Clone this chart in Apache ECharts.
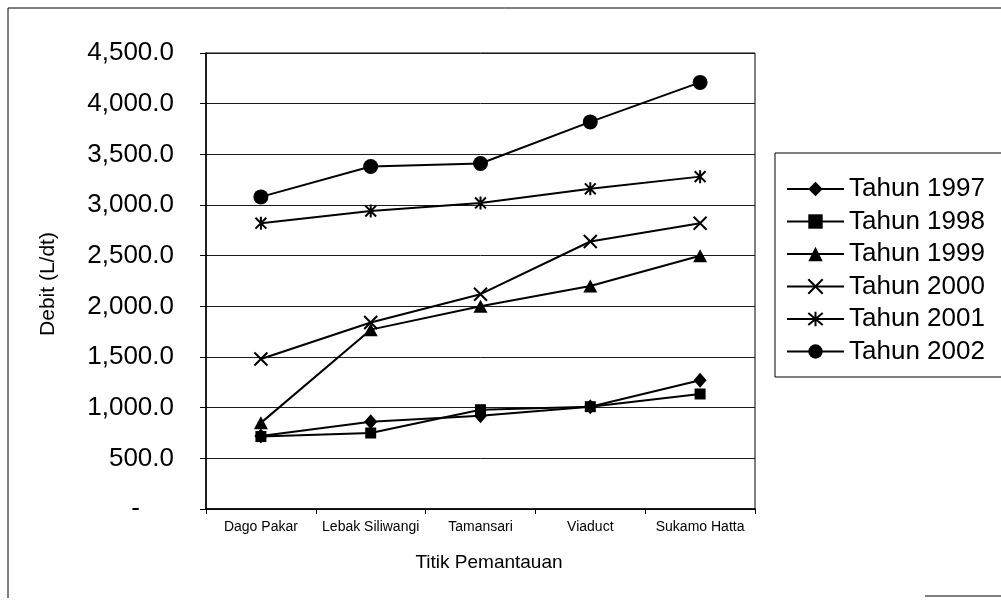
<!DOCTYPE html>
<html>
<head>
<meta charset="utf-8">
<script src="https://cdn.jsdelivr.net/npm/echarts@6/dist/echarts.min.js"></script>
<style>
  html, body { margin: 0; padding: 0; background: #fff; }
  #chart { width: 1001px; height: 602px; }
</style>
</head>
<body>
<div id="chart"></div>
<script>
// Monitoring points along the river
const categories = ['Dago Pakar', 'Lebak Siliwangi', 'Tamansari', 'Viaduct', 'Sukamo Hatta'];

// Discharge (L/dt) per year
const tahun1997 = [720, 860, 920, 1010, 1270];
const tahun1998 = [715, 750, 980, 1010, 1135];
const tahun1999 = [850, 1770, 2000, 2200, 2500];
const tahun2000 = [1480, 1840, 2120, 2640, 2820];
const tahun2001 = [2820, 2940, 3020, 3160, 3280];
const tahun2002 = [3080, 3380, 3410, 3820, 4210];

const seriesNames = ['Tahun 1997', 'Tahun 1998', 'Tahun 1999', 'Tahun 2000', 'Tahun 2001', 'Tahun 2002'];
const seriesData = [tahun1997, tahun1998, tahun1999, tahun2000, tahun2001, tahun2002];

const yTicks = { min: 0, max: 4500, interval: 500 };

const FONT = '"Liberation Sans", Arial, sans-serif';

// Marker shapes: diamond, square, triangle, cross, asterisk, circle
const markers = [
  { symbol: 'diamond', size: [13, 15], stroke: false },
  { symbol: 'rect', size: 11, stroke: false },
  { symbol: 'triangle', size: [14, 13], stroke: false },
  { symbol: 'path://M0,0 L10,10 M10,0 L0,10', size: 13, stroke: true },
  { symbol: 'path://M0,0 L10,10 M10,0 L0,10 M5,-1 L5,11', size: 13, stroke: true },
  { symbol: 'circle', size: 15, stroke: false }
];

const series = seriesNames.map((name, i) => ({
  name: name,
  type: 'line',
  data: seriesData[i],
  symbol: markers[i].symbol,
  symbolSize: markers[i].size,
  symbolKeepAspect: true,
  showAllSymbol: true,
  lineStyle: { color: '#000', width: 2 },
  itemStyle: markers[i].stroke
    ? { color: '#000', borderColor: '#000', borderWidth: 2 }
    : { color: '#000', borderColor: '#000', borderWidth: 0 },
  emphasis: { disabled: true },
  animation: false,
  z: 3
}));

const fmt = v => v.toLocaleString('en-US', { minimumFractionDigits: 1, maximumFractionDigits: 1 });

const chart = echarts.init(document.getElementById('chart'), null, { renderer: 'canvas' });
chart.setOption({
  animation: false,
  backgroundColor: '#fff',
  grid: {
    left: 206, right: 246, top: 53, bottom: 93,
    show: true, borderColor: '#000', borderWidth: 1
  },
  xAxis: {
    type: 'category',
    data: categories,
    boundaryGap: true,
    axisLine: { lineStyle: { color: '#000', width: 1.5 } },
    axisTick: { show: true, inside: false, length: 5, interval: 0, lineStyle: { color: '#000' } },
    axisLabel: { color: '#000', fontFamily: FONT, fontSize: 14, margin: 11, interval: 0 },
    splitLine: { show: false }
  },
  yAxis: {
    type: 'value',
    min: yTicks.min, max: yTicks.max, interval: yTicks.interval,
    axisLine: { show: true, lineStyle: { color: '#000', width: 1.5 } },
    axisTick: { show: true, inside: false, length: 6, lineStyle: { color: '#000' } },
    axisLabel: {
      color: '#000', fontFamily: FONT, fontSize: 26, margin: 32,
      formatter: v => v === 0 ? '{d|-}' : fmt(v),
      rich: { d: { fontFamily: FONT, fontSize: 26, color: '#000', padding: [0, 34, 0, 0] } }
    },
    splitLine: { show: true, lineStyle: { color: '#1a1a1a', width: 1 } }
  },
  legend: {
    orient: 'vertical',
    left: 781, top: 171,
    itemWidth: 57, itemHeight: 18, itemGap: 6.5,
    textStyle: { color: '#000', fontFamily: FONT, fontSize: 26, lineHeight: 26 },
    data: seriesNames,
    selectedMode: false
  },
  graphic: [
    // outer frame edges
    { type: 'line', shape: { x1: 8, y1: 8, x2: 1001, y2: 8 }, style: { stroke: '#000', lineWidth: 1 } },
    { type: 'line', shape: { x1: 8, y1: 8, x2: 8, y2: 598 }, style: { stroke: '#000', lineWidth: 1 } },
    { type: 'line', shape: { x1: 925, y1: 596, x2: 1001, y2: 596 }, style: { stroke: '#000', lineWidth: 1 } },
    // legend box
    { type: 'rect', shape: { x: 775, y: 153, width: 300, height: 224 }, style: { fill: 'none', stroke: '#000', lineWidth: 1 }, z: 1 },
    // axis titles
    {
      type: 'text', x: 489, y: 563,
      style: { text: 'Titik Pemantauan', font: '19px ' + FONT, fill: '#000', textAlign: 'center', textVerticalAlign: 'middle' }
    },
    {
      type: 'text', x: 48, y: 284, rotation: Math.PI / 2,
      style: { text: 'Debit (L/dt)', font: '21px ' + FONT, fill: '#000', textAlign: 'center', textVerticalAlign: 'middle' }
    }
  ],
  series: series
});
</script>
</body>
</html>
